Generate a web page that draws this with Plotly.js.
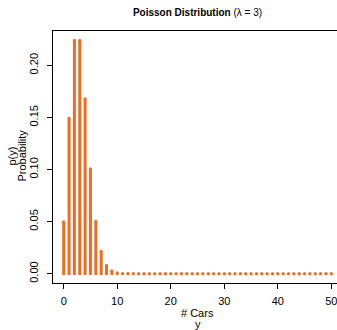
<!DOCTYPE html>
<html>
<head>
<meta charset="utf-8">
<script src="https://cdn.plot.ly/plotly-3.0.1.min.js"></script>
<style>
html,body{margin:0;padding:0;overflow:hidden;background:#fff;}
#chart{width:342px;height:330px;}
</style>
</head>
<body>
<div id="chart"></div>
<script>
// Number of cars (y) and Poisson(λ = 3) probabilities
var cars = [0,1,2,3,4,5,6,7,8,9,10,11,12,13,14,15,16,17,18,19,20,21,22,23,24,25,26,27,28,29,30,31,32,33,34,35,36,37,38,39,40,41,42,43,44,45,46,47,48,49,50];
var prob = [0.0498,0.1494,0.2240,0.2240,0.1680,0.1008,0.0504,0.0216,0.0081,0.0027,0.0008,0.0002,0.00005,0,0,0,0,0,0,0,0,0,0,0,0,0,0,0,0,0,0,0,0,0,0,0,0,0,0,0,0,0,0,0,0,0,0,0,0,0,0];
var xTicks = [0,10,20,30,40,50];
var yTicks = [0,0.05,0.10,0.15,0.20];
var xTitleLines = ['# Cars', 'y'];
var yTitleLines = ['p(y)', 'Probability'];

var barColor = '#F26B21';

// vertical "h"-type segments
var segX = [], segY = [];
for (var i = 0; i < cars.length; i++) {
  segX.push(cars[i], cars[i], null);
  segY.push(0, prob[i], null);
}
// round caps at both ends
var capX = cars.concat(cars);
var capY = cars.map(function(){return 0;}).concat(prob);

var traces = [
  {x: segX, y: segY, type: 'scatter', mode: 'lines',
   line: {color: barColor, width: 3}, hoverinfo: 'skip', showlegend: false},
  {x: capX, y: capY, type: 'scatter', mode: 'markers',
   marker: {color: barColor, size: 3, line: {width: 0}}, hoverinfo: 'skip', showlegend: false}
];

var font = {family: 'Liberation Sans, Arial, sans-serif', size: 11, color: '#000'};

var annotations = [
  {text: xTitleLines[0], xref: 'paper', yref: 'paper', x: 0.5, y: 0, xanchor: 'center', yanchor: 'middle', yshift: -29.5, borderpad: 0, showarrow: false, font: font},
  {text: xTitleLines[1], xref: 'paper', yref: 'paper', x: 0.5, y: 0, xanchor: 'center', yanchor: 'middle', yshift: -41, borderpad: 0, showarrow: false, font: font},
  {text: yTitleLines[0], xref: 'paper', yref: 'paper', x: 0, y: 0.5, xanchor: 'center', yanchor: 'middle', xshift: -41.5, yshift: 1, textangle: -90, showarrow: false, font: font},
  {text: yTitleLines[1], xref: 'paper', yref: 'paper', x: 0, y: 0.5, xanchor: 'center', yanchor: 'middle', xshift: -31.5, yshift: 1, textangle: -90, showarrow: false, font: font}
];

var layout = {
  width: 342, height: 330,
  margin: {l: 53, r: 0, t: 31, b: 47, pad: 0},
  paper_bgcolor: '#fff', plot_bgcolor: '#fff',
  font: font,
  showlegend: false,
  title: {text: '<b>Poisson Distribution</b> (λ = 3)', font: {family: 'Liberation Sans, Arial, sans-serif', size: 10, color: '#000'},
          x: 0.5, xref: 'paper', y: 0.963, yref: 'container', xanchor: 'center', yanchor: 'middle'},
  xaxis: {
    range: [-2, 52], tickvals: xTicks, ticktext: xTicks.map(String),
    ticks: 'outside', ticklen: 5, tickwidth: 1, tickcolor: '#000',
    showline: true, mirror: true, linecolor: '#000', linewidth: 1,
    showgrid: false, zeroline: false, ticklabelstandoff: 3,
    tickfont: font
  },
  yaxis: {
    range: [-0.00896, 0.23296], tickvals: yTicks, ticktext: yTicks.map(function(v){return v.toFixed(2);}),
    ticks: 'outside', ticklen: 5, tickwidth: 1, tickcolor: '#000', tickangle: -90,
    showline: true, mirror: true, linecolor: '#000', linewidth: 1,
    showgrid: false, zeroline: false, ticklabelstandoff: 5,
    tickfont: font
  },
  annotations: annotations
};

Plotly.newPlot('chart', traces, layout, {displayModeBar: false, staticPlot: true});
</script>
</body>
</html>
